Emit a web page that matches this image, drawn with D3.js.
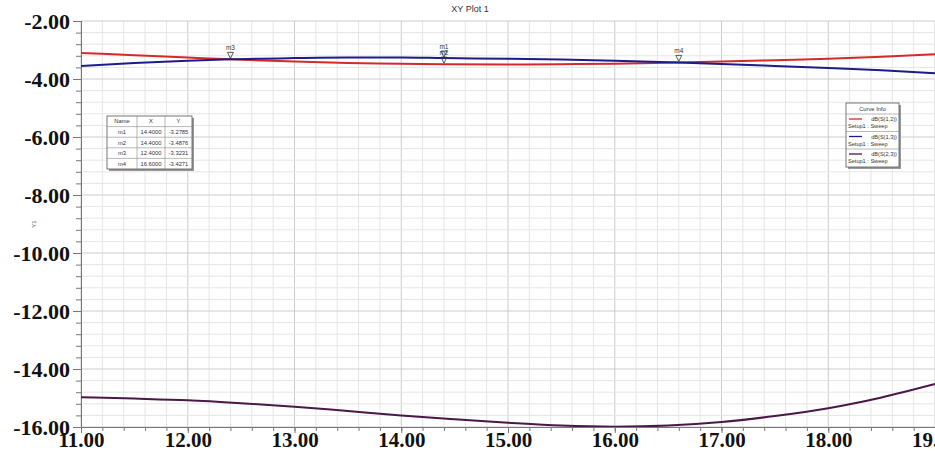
<!DOCTYPE html>
<html>
<head>
<meta charset="utf-8">
<script src="https://cdn.jsdelivr.net/npm/d3@7"></script>
<style>
body { margin: 0; background: #fff; }
svg { display: block; }
</style>
</head>
<body>
<svg id="chart" width="935" height="454"></svg>
<script>
// data
var freq = [11, 11.5, 12, 12.4, 13, 13.5, 14, 14.4, 15, 15.5, 16, 16.6, 17, 17.5, 18, 18.5, 19];
var s12 = [-3.10, -3.18, -3.26, -3.32, -3.40, -3.45, -3.47, -3.49, -3.50, -3.49, -3.47, -3.43, -3.40, -3.35, -3.30, -3.23, -3.15];
var s13 = [-3.55, -3.45, -3.37, -3.32, -3.28, -3.26, -3.26, -3.28, -3.30, -3.33, -3.37, -3.43, -3.48, -3.55, -3.62, -3.70, -3.80];
var freq23 = [11, 11.5, 12, 12.5, 13, 13.5, 14, 14.5, 15, 15.5, 16, 16.5, 17, 17.5, 18, 18.5, 19];
var s23 = [-14.97, -15.02, -15.08, -15.18, -15.30, -15.45, -15.60, -15.73, -15.85, -15.95, -15.99, -15.95, -15.83, -15.62, -15.35, -14.98, -14.52];

var markerNames = ['m1', 'm2', 'm3', 'm4'];
var markerX = [14.4, 14.4, 12.4, 16.6];
var markerY = [-3.2785, -3.4876, -3.3231, -3.4271];

var xTicks = [11, 12, 13, 14, 15, 16, 17, 18, 19];
var yTicks = [-2, -4, -6, -8, -10, -12, -14, -16];

var curveNames = ['dB(S(1,2))', 'dB(S(1,3))', 'dB(S(2,3))'];
var curveColors = ['#d42a2a', '#1c1c8a', '#4a1848'];

var svg = d3.select('#chart');
var pLeft = 81, pRight = 935, pTop = 21, pBottom = 427;

var x = d3.scaleLinear().domain([11, 19]).range([pLeft, pRight]);
var y = d3.scaleLinear().domain([-16, -2]).range([pBottom, pTop]);

// plain hyphen instead of d3's unicode minus
var fmt = function(d){ return d.toFixed(2); };

// grid
var grid = svg.append('g');
grid.selectAll('.vx').data(d3.range(11, 19.01, 0.2))
	.enter().append('line')
	.attr('x1', function(d){ return x(d); }).attr('x2', function(d){ return x(d); })
	.attr('y1', pTop).attr('y2', pBottom)
	.attr('stroke', function(d){ return Math.abs(d - Math.round(d)) < 0.01 ? '#cccccc' : '#e6e6e6'; })
	.attr('stroke-width', 1);
grid.selectAll('.hy').data(d3.range(-16, -1.99, 0.4))
	.enter().append('line')
	.attr('x1', pLeft).attr('x2', pRight)
	.attr('y1', function(d){ return y(d); }).attr('y2', function(d){ return y(d); })
	.attr('stroke', function(d){ return Math.abs(d/2 - Math.round(d/2)) < 0.01 ? '#cccccc' : '#e6e6e6'; })
	.attr('stroke-width', 1);

// axes
var axisFont = '"Liberation Serif", "Times New Roman", serif';
var yAxis = svg.append('g').attr('transform', 'translate(' + pLeft + ',0)')
	.call(d3.axisLeft(y).tickValues(yTicks).tickFormat(fmt).tickSize(8).tickPadding(3));
var yMinor = svg.append('g').attr('transform', 'translate(' + pLeft + ',0)')
	.call(d3.axisLeft(y).tickValues(d3.range(-16, -1.99, 0.4)).tickFormat('').tickSize(5));
var xAxis = svg.append('g').attr('transform', 'translate(0,' + pBottom + ')')
	.call(d3.axisBottom(x).tickValues(xTicks).tickFormat(fmt).tickSize(6).tickPadding(0));
var xMinor = svg.append('g').attr('transform', 'translate(0,' + pBottom + ')')
	.call(d3.axisBottom(x).tickValues(d3.range(11, 19.01, 0.2)).tickFormat('').tickSize(4));

[yAxis, yMinor, xAxis, xMinor].forEach(function(a){
	a.selectAll('.domain').attr('stroke', '#777');
	a.selectAll('.tick line').attr('stroke', '#777');
});
yAxis.selectAll('text').style('font-family', axisFont).style('font-weight', 'bold').style('font-size', '22px').attr('fill', '#111').attr('dy', '0.32em');
xAxis.selectAll('text').style('font-family', axisFont).style('font-weight', 'bold').style('font-size', '21px').attr('fill', '#111').attr('dy', '0.68em');

// title and axis name
svg.append('text').attr('x', 470).attr('y', 12).attr('text-anchor', 'middle')
	.style('font-family', 'Arial, "Liberation Sans", sans-serif').style('font-size', '9px').attr('fill', '#333')
	.text('XY Plot 1');
svg.append('text').attr('transform', 'translate(36,224) rotate(-90)').attr('text-anchor', 'middle')
	.style('font-family', 'Arial, "Liberation Sans", sans-serif').style('font-size', '6px').attr('fill', '#555')
	.text('Y1');

// curves
svg.append('clipPath').attr('id', 'clip').append('rect')
	.attr('x', pLeft).attr('y', pTop).attr('width', pRight - pLeft).attr('height', pBottom - pTop);
var plot = svg.append('g').attr('clip-path', 'url(#clip)');

var line = d3.line().curve(d3.curveMonotoneX)
	.x(function(d){ return x(d[0]); }).y(function(d){ return y(d[1]); });

var series = [d3.zip(freq, s12), d3.zip(freq, s13), d3.zip(freq23, s23)];
plot.selectAll('.curve').data(series)
	.enter().append('path')
	.attr('d', line)
	.attr('fill', 'none')
	.attr('stroke', function(d, i){ return curveColors[i]; })
	.attr('stroke-width', 2);

// markers
var mk = svg.append('g').selectAll('g').data(markerNames).enter().append('g')
	.attr('transform', function(d, i){ return 'translate(' + x(markerX[i]) + ',' + y(markerY[i]) + ')'; });
mk.append('path').attr('d', 'M-3,-7 L3,-7 L0,-1 Z').attr('fill', 'none').attr('stroke', '#333').attr('stroke-width', 0.8);
mk.append('text').attr('x', 0).attr('y', -9).attr('text-anchor', 'middle')
	.style('font-family', 'Arial, "Liberation Sans", sans-serif').style('font-size', '6.5px').attr('fill', '#333')
	.text(function(d){ return d; });

// marker table
var tblW = 85;
var tbl = svg.append('g').attr('transform', 'translate(107,116)');
var colX = [0, 30, 58, tblW];
var rowH = 10.6;
tbl.append('rect').attr('x', 2).attr('y', 2).attr('width', tblW).attr('height', rowH * 5).attr('fill', '#999');
tbl.append('rect').attr('x', 0).attr('y', 0).attr('width', tblW).attr('height', rowH * 5).attr('fill', '#fff').attr('stroke', '#555').attr('stroke-width', 0.8);
var rows = [['Name', 'X', 'Y']].concat(markerNames.map(function(n, i){
	return [n, markerX[i].toFixed(4), markerY[i].toFixed(4)];
}));
rows.forEach(function(r, ri){
	if (ri > 0) {
		tbl.append('line').attr('x1', 0).attr('x2', tblW).attr('y1', ri * rowH).attr('y2', ri * rowH).attr('stroke', '#888').attr('stroke-width', 0.6);
	}
	r.forEach(function(c, ci){
		tbl.append('text').attr('x', (colX[ci] + colX[ci + 1]) / 2).attr('y', ri * rowH + 7.3)
			.attr('text-anchor', 'middle')
			.style('font-family', 'Arial, "Liberation Sans", sans-serif').style('font-size', '5.8px').attr('fill', '#333')
			.text(c);
	});
});
[colX[1], colX[2]].forEach(function(cx){
	tbl.append('line').attr('x1', cx).attr('x2', cx).attr('y1', 0).attr('y2', rowH * 5).attr('stroke', '#888').attr('stroke-width', 0.6);
});

// legend
var lg = svg.append('g').attr('transform', 'translate(846,103)');
lg.append('rect').attr('x', 2).attr('y', 2).attr('width', 53).attr('height', 64).attr('fill', '#999');
lg.append('rect').attr('x', 0).attr('y', 0).attr('width', 53).attr('height', 64).attr('fill', '#fff').attr('stroke', '#555').attr('stroke-width', 0.8);
lg.append('text').attr('x', 26.5).attr('y', 8).attr('text-anchor', 'middle')
	.style('font-family', 'Arial, "Liberation Sans", sans-serif').style('font-size', '5.8px').attr('fill', '#333')
	.text('Curve Info');
curveNames.forEach(function(n, i){
	var gy = 11 + i * 17.5;
	lg.append('line').attr('x1', 0).attr('x2', 53).attr('y1', gy).attr('y2', gy).attr('stroke', '#888').attr('stroke-width', 0.6);
	lg.append('line').attr('x1', 3).attr('x2', 16).attr('y1', gy + 5).attr('y2', gy + 5).attr('stroke', curveColors[i]).attr('stroke-width', 1.3);
	lg.append('text').attr('x', 51).attr('y', gy + 7).attr('text-anchor', 'end')
		.style('font-family', 'Arial, "Liberation Sans", sans-serif').style('font-size', '5.6px').attr('fill', '#333')
		.text(n);
	lg.append('text').attr('x', 2).attr('y', gy + 14).attr('text-anchor', 'start')
		.style('font-family', 'Arial, "Liberation Sans", sans-serif').style('font-size', '5.6px').attr('fill', '#333')
		.text('Setup1 : Sweep');
});
</script>
</body>
</html>
